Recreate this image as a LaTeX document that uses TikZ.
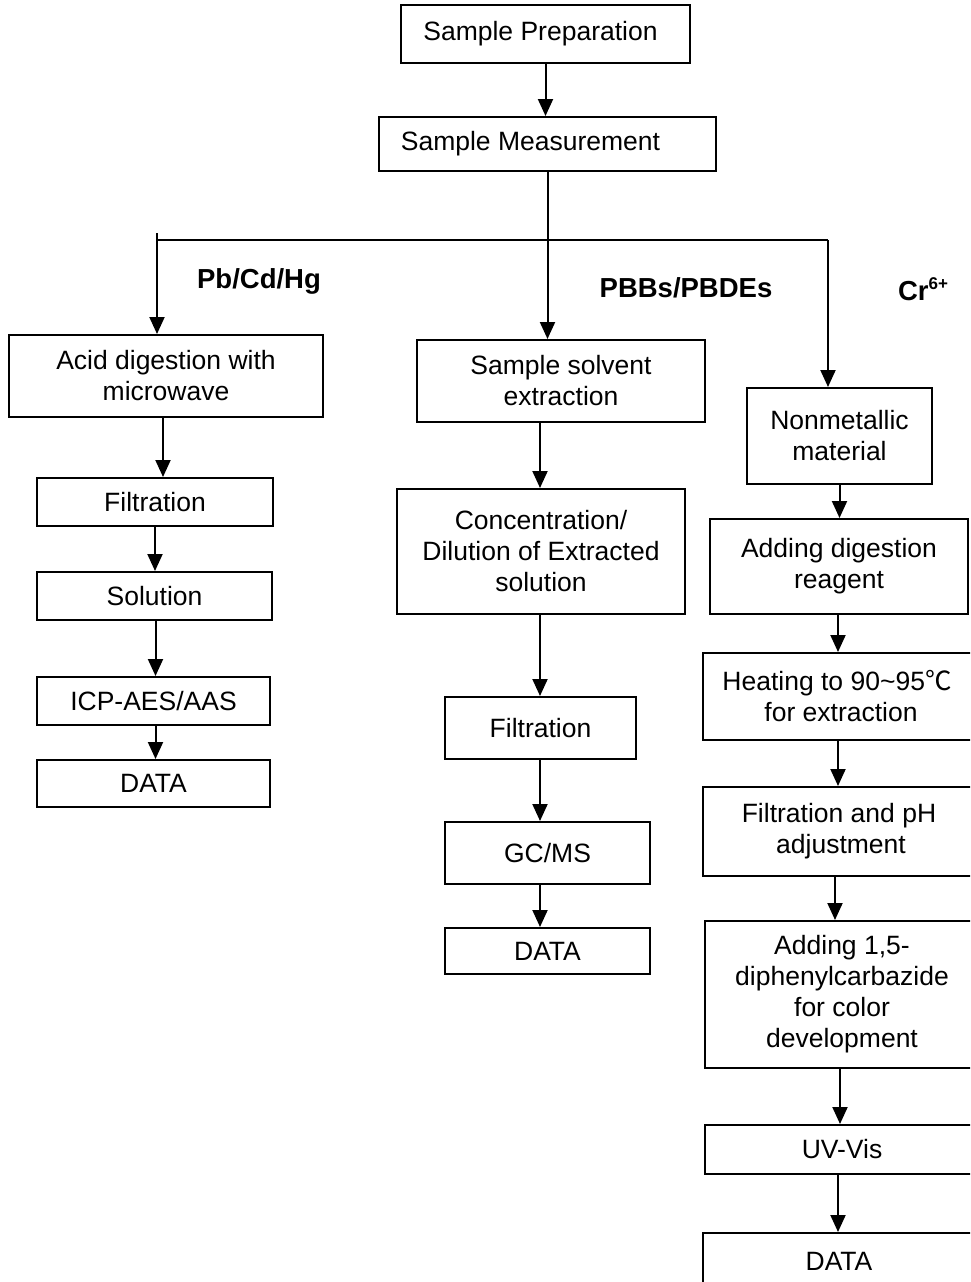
\documentclass[tikz,border=0pt]{standalone}
\usepackage{fontspec}
\setmainfont{Liberation Sans}
\newfontfamily\cjk{Noto Sans CJK SC}
\usetikzlibrary{arrows.meta}
\begin{document}
\begin{tikzpicture}[x=1pt,y=-1pt,
  box/.style={draw,line width=2pt,inner sep=0pt,align=center,
    font=\fontsize{26.5}{31}\selectfont},
  arr/.style={line width=2pt,-{Triangle[length=17pt,width=15pt]}},
  ln/.style={line width=2pt},
  lab/.style={inner sep=0pt,font=\fontsize{27.5}{31}\selectfont\bfseries}]
\useasboundingbox (0,0) rectangle (970,1282);
\clip (0,0) rectangle (970,1282);
% top
\node[box,minimum width=289pt,minimum height=58pt] (prep) at (545.5,34) {\hspace*{-10pt}Sample Preparation};
\node[box,minimum width=337pt,minimum height=54pt] (meas) at (547.5,144) {\hspace*{-34pt}Sample Measurement};
% left column
\node[box,minimum width=314pt,minimum height=82pt] (acid) at (166,376) {Acid digestion with\\microwave};
\node[box,minimum width=236pt,minimum height=48pt] (filt1) at (155,502) {Filtration};
\node[box,minimum width=235pt,minimum height=48pt] (sol) at (154.5,596) {Solution};
\node[box,minimum width=233pt,minimum height=48pt] (icp) at (153.5,701) {ICP-AES/AAS};
\node[box,minimum width=233pt,minimum height=47pt] (data1) at (153.5,783.5) {DATA};
% middle column
\node[box,minimum width=288pt,minimum height=82pt] (sse) at (561,381) {Sample solvent\\extraction};
\node[box,minimum width=288pt,minimum height=125pt] (conc) at (541,551.5) {Concentration/\\Dilution of Extracted\\solution};
\node[box,minimum width=191pt,minimum height=62pt] (filt2) at (540.5,728) {Filtration};
\node[box,minimum width=205pt,minimum height=62pt] (gcms) at (547.5,853) {GC/MS};
\node[box,minimum width=205pt,minimum height=46pt] (data2) at (547.5,951) {DATA};
% right column
\node[box,minimum width=185pt,minimum height=96pt] (nonm) at (839.5,436) {Nonmetallic\\material};
\node[box,minimum width=258pt,minimum height=95pt] (add) at (839,566.5) {Adding digestion\\reagent};
\node[box,minimum width=276pt,minimum height=87pt] (heat) at (841,696.5) {\hspace*{-8pt}Heating to 90\textasciitilde 95{\cjk ℃}\\for extraction};
\node[box,minimum width=276pt,minimum height=89pt] (fph) at (841,831.5) {\hspace*{-4pt}Filtration and pH\\adjustment};
\node[box,minimum width=274pt,minimum height=147pt] (dpc) at (842,994.5) {Adding 1,5-\\diphenylcarbazide\\for color\\development};
\node[box,minimum width=274pt,minimum height=49pt] (uv) at (842,1149.5) {UV-Vis};
\node[box,minimum width=276pt,minimum height=57pt] (data3) at (841,1261.5) {\hspace*{-4pt}DATA};
% labels
\node[lab] (l1) at (259,281) {Pb/Cd/Hg};
\node[lab] (l2) at (686,288) {PBBs/PBDEs};
\node[lab] (l3) at (923,289) {Cr\raisebox{11pt}{\fontsize{17}{17}\selectfont\bfseries 6+}};
% connectors
\coordinate (jl) at (157,240);
\coordinate (jl0) at (157,233);
\coordinate (jr) at (828,240);
\draw[arr] (prep.south) -- (prep.south |- meas.north);
\draw[arr] (meas.south) -- (meas.south |- sse.north);
\draw[ln] (jl) -- (jr);
\draw[arr] (jl0) -- (jl0 |- acid.north);
\draw[arr] (jr) -- (jr |- nonm.north);
% left
\draw[arr] ([xshift=-3pt]acid.south) -- ([xshift=8pt]filt1.north);
\draw[arr] (filt1.south) -- (filt1.south |- sol.north);
\draw[arr] ([xshift=1pt]sol.south) -- ([xshift=1pt]sol.south |- icp.north);
\draw[arr] ([xshift=2pt]icp.south) -- ([xshift=2pt]data1.north);
% middle
\draw[arr] ([xshift=-21pt]sse.south) -- ([xshift=-1pt]conc.north);
\draw[arr] ([xshift=-1pt]conc.south) -- ([xshift=-0.5pt]filt2.north);
\draw[arr] ([xshift=-0.5pt]filt2.south) -- ([xshift=-7.5pt]gcms.north);
\draw[arr] ([xshift=-7.5pt]gcms.south) -- ([xshift=-7.5pt]data2.north);
% right
\draw[arr] (nonm.south) -- ([xshift=0.5pt]add.north);
\draw[arr] ([xshift=-1pt]add.south) -- ([xshift=-3pt]heat.north);
\draw[arr] ([xshift=-3pt]heat.south) -- ([xshift=-3pt]fph.north);
\draw[arr] ([xshift=-6pt]fph.south) -- ([xshift=-7pt]dpc.north);
\draw[arr] ([xshift=-2pt]dpc.south) -- ([xshift=-2pt]uv.north);
\draw[arr] ([xshift=-4pt]uv.south) -- ([xshift=-3pt]data3.north);
\end{tikzpicture}
\end{document}
